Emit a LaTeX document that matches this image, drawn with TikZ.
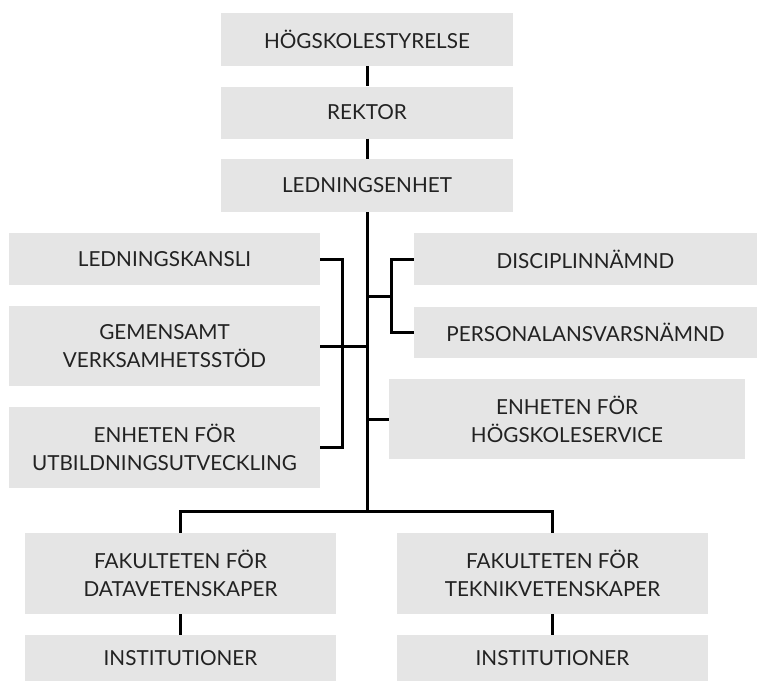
\documentclass[tikz,border=0pt]{standalone}
\usepackage{fontspec}
\setmainfont{Lato}
\definecolor{boxgray}{HTML}{E5E5E5}
\definecolor{inkgray}{HTML}{222222}
\tikzset{
  org/.style={fill=boxgray, text=inkgray, align=center, inner sep=0pt,
    font=\fontsize{20.7}{28}\selectfont},
  link/.style={line width=3pt}
}
\begin{document}
\begin{tikzpicture}[x=1pt,y=-1pt]
\useasboundingbox (0,0) rectangle (757,681);
% top chain
\node[org, minimum width=292pt, minimum height=53pt] (styrelse) at (367,39.5) {HÖGSKOLESTYRELSE};
\node[org, minimum width=292pt, minimum height=52pt] (rektor) at (367,112.5) {REKTOR};
\node[org, minimum width=292pt, minimum height=53pt] (ledning) at (367,185.5) {LEDNINGSENHET};
% left units
\node[org, minimum width=311pt, minimum height=52pt] (kansli) at (164.5,259) {LEDNINGSKANSLI};
\node[org, minimum width=311pt, minimum height=80pt] (stod) at (164.5,346) {GEMENSAMT\\VERKSAMHETSSTÖD};
\node[org, minimum width=311pt, minimum height=81pt] (utv) at (164.5,447.5) {ENHETEN FÖR\\UTBILDNINGSUTVECKLING};
% right units
\node[org, minimum width=343pt, minimum height=52pt] (disc) at (585.5,259) {DISCIPLINNÄMND};
\node[org, minimum width=343pt, minimum height=51pt] (pers) at (585.5,332) {PERSONALANSVARSNÄMND};
\node[org, minimum width=356pt, minimum height=80pt] (service) at (567,419) {ENHETEN FÖR\\HÖGSKOLESERVICE};
% faculties
\node[org, minimum width=311pt, minimum height=81pt] (datafak) at (180.5,573.5) {FAKULTETEN FÖR\\DATAVETENSKAPER};
\node[org, minimum width=311pt, minimum height=81pt] (teknfak) at (552.5,573.5) {FAKULTETEN FÖR\\TEKNIKVETENSKAPER};
\node[org, minimum width=311pt, minimum height=46pt] (datainst) at (180.5,658) {INSTITUTIONER};
\node[org, minimum width=311pt, minimum height=46pt] (tekninst) at (552.5,658) {INSTITUTIONER};
% connectors
\coordinate (split) at (367,511);
\coordinate (lv) at (342,346);
\coordinate (rv) at (391,296);
\draw[link] (styrelse) -- (rektor);
\draw[link] (rektor) -- (ledning);
\draw[link] (ledning.south) -- (split);
\draw[link] (kansli.east) -| (lv);
\draw[link] (utv.east) -| (lv);
\draw[link] (stod.east) -- (stod.east -| ledning);
\draw[link] (disc.west) -| (rv);
\draw[link] (pers.west) -| (rv);
\draw[link] (rv) -- (rv -| ledning);
\draw[link] (service.west) -- (service.west -| ledning);
\draw[link] (datafak.north) |- (split) -| (teknfak.north);
\draw[link] (datafak) -- (datainst);
\draw[link] (teknfak) -- (tekninst);
\end{tikzpicture}
\end{document}
